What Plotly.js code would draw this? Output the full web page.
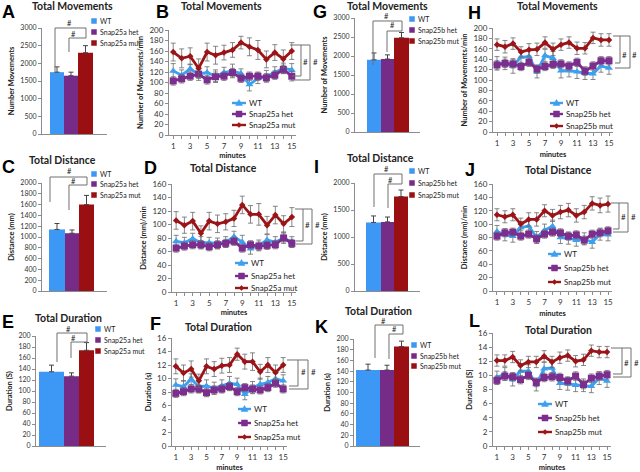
<!DOCTYPE html>
<html><head><meta charset="utf-8">
<script src="https://cdn.plot.ly/plotly-3.0.1.min.js"></script>
<style>html,body{margin:0;padding:0;background:#fff}</style>
</head><body><div id="chart" style="width:640px;height:472px"></div>
<script>
// ---------- DATA ----------
const minutes = [1,2,3,4,5,6,7,8,9,10,11,12,13,14,15];
const groupsA = ['WT','Snap25a het','Snap25a mut'];
const groupsB = ['WT','Snap25b het','Snap25b mut'];

// Totals (bar panels)
const movTotA = [1750,1650,2300];  const movTotAErr = [150,100,200];
const distTotA = [1140,1070,1600]; const distTotAErr = [110,60,170];
const durTotA = [135,127,174];     const durTotAErr = [12,6,14];
const movTotB = [1900,1920,2480];  const movTotBErr = [180,110,140];
const distTotB = [1270,1280,1750]; const distTotBErr = [120,90,120];
const durTotB = [142,142,186];     const durTotBErr = [11,9,10];

// Per-minute movements (B: Snap25a, H: Snap25b)
const movAWT  = [122,114,126,116,119,112,119,122,117,96,108,112,119,127,124];
const movAWTErr = [14,10,9,12,11,12,10,13,9,12,10,11,11,10,12];
const movAHet = [103,107,112,116,105,111,112,119,108,112,112,109,114,125,112];
const movAHetErr = [8,8,8,8,8,9,8,8,8,8,8,8,8,8,9];
const movAMut = [158,146,150,127,158,152,157,162,176,168,162,144,157,145,160];
const movAMutErr = [17,18,16,18,17,17,14,14,12,17,18,16,15,17,16];

const movBWT  = [132,132,127,144,145,116,147,142,118,118,116,113,112,127,123];
const movBWTErr = [13,12,14,12,12,12,12,13,14,12,13,12,11,12,12];
const movBHet = [129,132,131,126,134,121,126,130,131,127,134,117,127,137,137];
const movBHetErr = [8,8,8,8,8,8,8,8,8,8,8,8,8,8,8];
const movBMut = [168,164,170,154,158,159,172,159,168,172,161,161,181,177,177];
const movBMutErr = [11,12,11,10,12,12,11,12,11,11,12,11,11,12,12];

// Per-minute distance (D: Snap25a, J: Snap25b)
const distAWT  = [75,73,79,73,73,72,74,82,74,64,69,77,74,80,74];
const distAWTErr = [9,8,8,9,8,8,8,8,10,8,8,8,8,8,8];
const distAHet = [65,68,70,70,67,70,72,75,65,70,68,69,70,80,72];
const distAHetErr = [6,6,6,6,6,6,6,6,6,6,6,6,6,6,6];
const distAMut = [106,99,105,87,105,101,104,109,129,115,115,99,114,101,111];
const distAMutErr = [13,12,13,11,13,13,12,12,13,13,16,13,13,12,14];

const distBWT  = [89,84,82,95,97,80,91,97,80,79,76,78,73,85,84];
const distBWTErr = [9,9,9,9,9,9,9,9,9,9,9,9,9,9,9];
const distBHet = [82,87,88,82,85,78,85,88,87,82,84,76,85,87,90];
const distBHetErr = [6,6,6,6,6,6,6,6,6,6,6,6,6,6,6];
const distBMut = [114,111,114,100,107,107,120,113,118,121,113,118,131,128,130];
const distBMutErr = [9,9,9,9,10,10,9,9,10,10,10,10,10,11,12];

// Per-minute duration (F: Snap25a, L: Snap25b)
const durAWT  = [9.05,8.8,9.9,8.8,8.9,8.55,8.9,9.3,9.15,7.65,8.65,9.15,9.4,9.95,9.65];
const durAWTErr = [0.9,0.9,0.8,0.9,0.9,0.9,0.9,1.0,0.9,0.8,0.9,0.9,0.9,0.8,0.9];
const durAHet = [7.8,8.05,8.45,8.45,7.9,8.3,8.45,8.8,8.05,8.65,8.45,8.3,8.65,9.3,8.45];
const durAHetErr = [0.6,0.6,0.6,0.6,0.6,0.6,0.6,0.6,0.6,0.6,0.6,0.6,0.6,0.6,0.6];
const durAMut = [11.8,10.8,11.4,9.65,11.8,11.4,11.9,12.0,13.6,12.5,12.5,11.0,12.0,10.9,12.0];
const durAMutErr = [1.1,1.2,1.2,1.0,1.1,1.1,1.1,1.1,0.9,1.1,1.3,1.1,1.1,1.1,1.1];

const durBWT  = [9.7,10.2,9.4,10.6,10.6,8.7,10.95,11.05,8.9,8.8,8.6,8.6,8.45,9.6,9.2];
const durBWTErr = [0.9,0.9,0.9,0.9,0.9,0.9,0.9,0.9,0.9,0.9,0.9,0.9,0.9,0.9,0.9];
const durBHet = [9.3,9.9,9.8,9.4,10.0,9.0,9.7,9.8,9.7,9.2,9.9,8.7,9.6,9.9,10.1];
const durBHetErr = [0.6,0.6,0.6,0.6,0.6,0.6,0.6,0.6,0.6,0.6,0.6,0.6,0.6,0.6,0.6];
const durBMut = [12.1,12.1,12.6,11.4,11.9,11.9,12.7,11.9,12.5,12.8,12.0,12.2,13.5,13.3,13.3];
const durBMutErr = [0.8,0.8,0.8,0.8,0.8,0.8,0.8,0.8,0.8,0.8,0.8,0.8,0.8,0.8,0.8];

// ---------- STYLE / LAYOUT ----------
const W = 640, H = 472;
const fx = p => p / W, fy = p => 1 - p / H;
const FONT = 'Lato, "Open Sans", sans-serif';
const lineCol = ['#3d9ff0', '#7b2e8d', '#9b1518'];
const barCol  = ['#3d97f4', '#762c87', '#9a0f12'];
const symbols = ['triangle-up', 'square', 'diamond'];
const msizes = [7, 7, 5];

const layout = {
  width: W, height: H, margin: {l:0, r:0, t:0, b:0},
  showlegend: false, paper_bgcolor: '#fff', plot_bgcolor: '#fff',
  font: {family: FONT, color: '#222', size: 8},
  annotations: [], shapes: []
};
const data = [];

function txt(x, y, t, o = {}) {
  layout.annotations.push({xref:'paper', yref:'paper', x: fx(x), y: fy(y), text: t, showarrow: false,
    xanchor: o.xa || 'left', yanchor: 'middle',
    font: {size: o.size || 8, color: o.color || '#222', family: o.family || FONT}});
}
function poly(pts, color = '#666', width = 1, fill) {
  let p = pts.map((q, k) => (k ? 'L' : 'M') + fx(q[0]).toFixed(5) + ',' + fy(q[1]).toFixed(5)).join(' ');
  if (fill) p += ' Z';
  layout.shapes.push({type: 'path', xref: 'paper', yref: 'paper', path: p,
    line: {color: color, width: width}, fillcolor: fill || 'rgba(0,0,0,0)'});
}
function markerShape(sym, cx, cy, s, col) {
  if (sym === 'square') poly([[cx-s,cy-s],[cx+s,cy-s],[cx+s,cy+s],[cx-s,cy+s]], col, 0.5, col);
  else if (sym === 'triangle-up') poly([[cx,cy-s-0.5],[cx+s+0.5,cy+s*0.8],[cx-s-0.5,cy+s*0.8]], col, 0.5, col);
  else poly([[cx,cy-s],[cx+s,cy],[cx,cy+s],[cx-s,cy]], col, 0.5, col);
}
function axKeys(i) { return i === 1 ? ['xaxis','yaxis','x','y'] : ['xaxis'+i,'yaxis'+i,'x'+i,'y'+i]; }

function yAxis(dom, yr, dt, title, tsize) {
  return {domain: [fy(dom[3]), fy(dom[2])], range: yr, dtick: dt, tick0: 0,
    showline: true, linecolor: '#8c8c8c', linewidth: 1, ticks: 'outside', ticklen: 3, tickcolor: '#8c8c8c',
    showgrid: false, zeroline: false, fixedrange: true,
    tickfont: {size: tsize, color: '#333', family: FONT},
    title: {text: '<b>' + title + '</b>', font: {size: 7.5, color: '#222', family: FONT}, standoff: 4}};
}

// bar panels
function barPanel(i, p) {
  const [xa, ya, xr, yr] = axKeys(i);
  layout[xa] = {domain: [fx(p.dom[0]), fx(p.dom[1])], range: [p.dom[0], p.dom[1]], anchor: yr,
    showline: true, linecolor: '#8c8c8c', linewidth: 1, showticklabels: false, ticks: '',
    showgrid: false, zeroline: false, fixedrange: true};
  layout[ya] = yAxis(p.dom, p.yr, p.dt, p.yt, 7);
  layout[ya].anchor = xr;
  p.vals.forEach((v, k) => {
    const e = p.edges[k];
    data.push({type: 'bar', x: [(e[0]+e[1])/2], y: [v], width: [e[1]-e[0]], xaxis: xr, yaxis: yr,
      name: p.names[k], marker: {color: barCol[k], line: {width: 0}},
      error_y: {type: 'data', array: [p.errs[k]], arrayminus: [0], symmetric: false, color: '#444', thickness: 1, width: 2.5}});
  });
  p.names.forEach((n, k) => {
    poly([[p.leg.x-2.5,p.leg.ys[k]-2.5],[p.leg.x+2.5,p.leg.ys[k]-2.5],[p.leg.x+2.5,p.leg.ys[k]+2.5],[p.leg.x-2.5,p.leg.ys[k]+2.5]], barCol[k], 0.5, barCol[k]);
    txt(p.leg.x + 3.5, p.leg.ys[k], n, {size: 7});
  });
  p.br.forEach(b => poly(b, '#707070', 1));
  p.hash.forEach(h => txt(h[0], h[1], '#', {xa: 'center', size: 7.5}));
}

// line panels
function linePanel(i, p) {
  const [xa, ya, xr, yr] = axKeys(i);
  layout[xa] = {domain: [fx(p.dom[0]), fx(p.dom[1])], range: [0.5, 15.5], anchor: yr,
    showline: true, linecolor: '#8c8c8c', linewidth: 1, ticks: 'outside', ticklen: 3, tickcolor: '#8c8c8c',
    tickvals: minutes, ticktext: minutes.map(m => m % 2 ? String(m) : ''),
    tickfont: {size: 8, color: '#333', family: FONT},
    showgrid: false, zeroline: false, fixedrange: true,
    title: {text: '<b>minutes</b>', font: {size: 7.5, color: '#222', family: FONT}, standoff: p.xstand}};
  layout[ya] = yAxis(p.dom, p.yr, p.dt, p.yt, 8);
  layout[ya].anchor = xr;
  p.series.forEach((s, k) => {
    data.push({type: 'scatter', mode: 'lines+markers', x: minutes, y: s, xaxis: xr, yaxis: yr,
      name: p.names[k], line: {color: lineCol[k], width: 2.8},
      marker: {symbol: symbols[k], size: msizes[k], color: lineCol[k]},
      error_y: {type: 'data', array: p.errs[k], color: '#6a6a6a', thickness: 0.8, width: 2.5}});
  });
  const L = p.leg;
  p.names.forEach((n, k) => {
    poly([[L.x0, L.ys[k]], [L.x1, L.ys[k]]], lineCol[k], 2.4);
    markerShape(symbols[k], (L.x0 + L.x1) / 2, L.ys[k], k === 2 ? 2.5 : 3, lineCol[k]);
    txt(L.x1 + 0.5, L.ys[k], n, {size: 8});
  });
  p.br.forEach(b => poly(b, '#707070', 1));
  p.hash.forEach(h => txt(h[0], h[1], '#', {xa: 'center', size: 8}));
}

// A
barPanel(1, {dom: [42,107,28,134], yr: [0,3000], dt: 500, yt: 'Number Movements', vals: movTotA, errs: movTotAErr, names: groupsA,
  edges: [[50,64],[64,78],[78,93]], leg: {x: 94, ys: [21,32,43]},
  br: [[[55,72],[55,28],[86,28],[86,38]], [[69,52],[69,38],[86,38]]], hash: [[69,24],[73,34]]});
// B
linePanel(2, {dom: [169,296,30,135], yr: [0,200], dt: 20, yt: 'Number of Movements/min', xstand: 2,
  series: [movAWT, movAHet, movAMut], errs: [movAWTErr, movAHetErr, movAMutErr], names: groupsA,
  leg: {x0: 232, x1: 246, ys: [103,114,125]},
  br: [[[290,45],[310,45],[310,80],[292,80]], [[301,45],[301,76],[292,76]]], hash: [[305.5,62],[315.5,62]]});
// G
barPanel(3, {dom: [355,420,18,132], yr: [0,3000], dt: 500, yt: 'Number of Movements', vals: movTotB, errs: movTotBErr, names: groupsB,
  edges: [[367,381],[381,394],[394,409]], leg: {x: 412, ys: [19,30,41]},
  br: [[[373,65],[373,21],[402,21],[402,31]], [[387,52],[387,31],[402,31]]], hash: [[386,16],[392,26]]});
// H
linePanel(4, {dom: [493,613,28,132], yr: [0,200], dt: 20, yt: 'Number of Movements/min', xstand: 5,
  series: [movBWT, movBHet, movBMut], errs: [movBWTErr, movBHetErr, movBMutErr], names: groupsB,
  leg: {x0: 550, x1: 563, ys: [103,114,126]},
  br: [[[613,36],[630,36],[630,68],[615,68]], [[620,36],[620,63],[615,63]]], hash: [[624.5,55],[634.5,55]]});
// C
barPanel(5, {dom: [42,107,183,291], yr: [0,2000], dt: 200, yt: 'Distance (mm)', vals: distTotA, errs: distTotAErr, names: groupsA,
  edges: [[49,65],[65,79],[79,94]], leg: {x: 94, ys: [174,184,195]},
  br: [[[50,202],[50,177],[87,177],[87,185]], [[69,210],[69,185],[87,185]]], hash: [[69,172],[73,181]]});
// D
linePanel(6, {dom: [172,296,184,292], yr: [0,160], dt: 20, yt: 'Distance (mm)/min', xstand: 2,
  series: [distAWT, distAHet, distAMut], errs: [distAWTErr, distAHetErr, distAMutErr], names: groupsA,
  leg: {x0: 235, x1: 248, ys: [263,276,288]},
  br: [[[295,209],[312,209],[312,244],[296,244]], [[303,209],[303,241],[296,241]]], hash: [[307.5,225],[317.5,225]]});
// I
barPanel(7, {dom: [355,420,183,291], yr: [0,2000], dt: 500, yt: 'Distance (mm)', vals: distTotB, errs: distTotBErr, names: groupsB,
  edges: [[366,381],[381,394],[394,408]], leg: {x: 412, ys: [171,183,195]},
  br: [[[374,207],[374,174],[402,174],[402,184]], [[388,208],[388,184],[402,184]]], hash: [[386,169.5],[390,180]]});
// J
linePanel(8, {dom: [493,612,184,291], yr: [0,160], dt: 20, yt: 'Distance (mm)/min', xstand: 5,
  series: [distBWT, distBHet, distBMut], errs: [distBWTErr, distBHetErr, distBMutErr], names: groupsB,
  leg: {x0: 548, x1: 561, ys: [254,268,282]},
  br: [[[611,203],[628,203],[628,232],[613,232]], [[619,203],[619,229],[613,229]]], hash: [[623.5,217],[633,217]]});
// E
barPanel(9, {dom: [36,106,336,446], yr: [0,200], dt: 20, yt: 'Duration (S)', vals: durTotA, errs: durTotAErr, names: groupsA,
  edges: [[39,64],[64,79],[79,94]], leg: {x: 98, ys: [329,340,351]},
  br: [[[57,362],[57,333],[87,333],[87,342]], [[71,358],[71,342],[87,342]]], hash: [[68,329],[73,338]]});
// F
linePanel(10, {dom: [172,287,338,446], yr: [0,16], dt: 2, yt: 'Duration (s)', xstand: 4,
  series: [durAWT, durAHet, durAMut], errs: [durAWTErr, durAHetErr, durAMutErr], names: groupsA,
  leg: {x0: 238, x1: 251, ys: [409,423,437]},
  br: [[[287,360],[308,360],[308,389],[289,389]], [[298,360],[298,386],[289,386]]], hash: [[303,372],[313,372]]});
// K
barPanel(11, {dom: [354,420,339,446], yr: [0,200], dt: 20, yt: 'Duration (s)', vals: durTotB, errs: durTotBErr, names: groupsB,
  edges: [[356,380],[380,394],[394,409]], leg: {x: 414, ys: [345,356,366]},
  br: [[[375,358],[375,325],[403,325],[403,334]], [[389,359],[389,334],[403,334]]], hash: [[383,321],[394,329.5]]});
// L
linePanel(12, {dom: [493,611,333,446], yr: [0,16], dt: 2, yt: 'Duration [S]', xstand: 9,
  series: [durBWT, durBHet, durBMut], errs: [durBWTErr, durBHetErr, durBMutErr], names: groupsB,
  leg: {x0: 538, x1: 552, ys: [404,418,432]},
  br: [[[611,348],[631,348],[631,377],[613,377]], [[622,348],[622,374],[613,374]]], hash: [[626.5,363],[636,363]]});

// Panel titles
const titles = [
  ['Total Movements', 72, 6], ['Total Movements', 221, 6], ['Total Movements', 387, 6], ['Total Movements', 557, 6],
  ['Total Distance', 62, 160], ['Total Distance', 223, 168], ['Total Distance', 380, 158], ['Total Distance', 558, 170],
  ['Total Duration', 68, 318], ['Total Duration', 218, 327], ['Total Duration', 378, 311], ['Total Duration', 558, 330]
];
titles.forEach(t => txt(t[1], t[2], '<b>' + t[0] + '</b>', {xa: 'center', size: 10.5}));

// Panel letters
const letters = [['A',8,12],['B',162,12],['G',320,12],['H',474,13],['C',8,167],['D',150,168],['I',316,167],['J',470,170],
  ['E',8,322],['F',155,324],['K',321,327],['L',474,321]];
letters.forEach(l => txt(l[1], l[2], '<b>' + l[0] + '</b>', {xa: 'center', size: 18, color: '#000', family: '"Liberation Sans", Arial, sans-serif'}));

Plotly.newPlot('chart', data, layout, {staticPlot: true, displayModeBar: false});
</script>
</body></html>
